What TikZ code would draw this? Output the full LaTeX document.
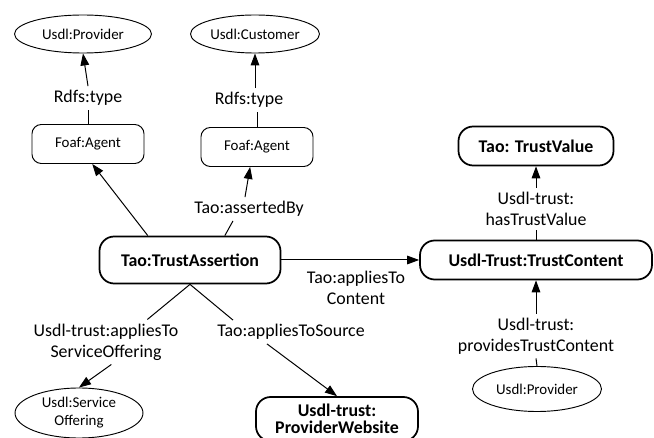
\documentclass[tikz,border=0pt]{standalone}
\usepackage{fontspec}
\setmainfont{Carlito}
\usepackage{xcolor}
\usetikzlibrary{arrows.meta,shapes.geometric}

\tikzset{
	bigbox/.style={draw,line width=1.3pt,rounded corners=11pt,inner sep=0pt,align=center,
		font=\fontsize{13.4}{12.8}\selectfont\bfseries},
	smallbox/.style={draw,line width=0.7pt,rounded corners=7pt,inner sep=0pt,
		font=\fontsize{11.2}{13.5}\selectfont},
	oval/.style={draw,ellipse,line width=0.7pt,inner sep=0pt,align=center,
		font=\fontsize{11.2}{13.5}\selectfont},
	rel/.style={inner sep=3pt,align=center,font=\fontsize{13.4}{15.75}\selectfont},
	conn/.style={line width=0.75pt},
	arr/.style={line width=0.75pt,-{Triangle[length=9pt,width=6.5pt]}}
}

\begin{document}
\begin{tikzpicture}[x=0.75pt,y=-0.75pt]
		\useasboundingbox (0,0) rectangle (654,438);
		\node[oval,minimum width=102.75pt,minimum height=28.5pt] (provA) at (83,34) {Usdl:Provider};
		\node[oval,minimum width=96.75pt,minimum height=28.5pt] (cust) at (255,34) {Usdl:Customer};
		\node[smallbox,minimum width=84pt,minimum height=29.25pt] (foafA) at (88,144) {Foaf:Agent};
		\node[smallbox,minimum width=84pt,minimum height=29.25pt] (foafB) at (257,147) {Foaf:Agent};
		\node[rel] (typeA) at (88,98) {Rdfs:type};
		\node[rel] (typeB) at (249,100) {Rdfs:type};
		\node[rel] (by) at (249,209) {Tao:assertedBy};
		\node[bigbox,minimum width=135.75pt,minimum height=35.25pt] (assert) at (190,260) {Tao:TrustAssertion};
		\node[bigbox,minimum width=174pt,minimum height=29.25pt] (content) at (536,260) {Usdl-Trust:TrustContent};
		\node[bigbox,minimum width=116.25pt,minimum height=29.25pt] (value) at (536,146) {Tao: TrustValue};
		\node[rel] (hasTV) at (536,209) {Usdl-trust:\\hasTrustValue};
		\node[rel] (appC) at (356,288) {Tao:appliesTo\\Content};
		\node[rel] (provides) at (536,336) {Usdl-trust:\\providesTrustContent};
		\node[oval,minimum width=96.75pt,minimum height=33.75pt] (prov2) at (537,389) {Usdl:Provider};
		\node[rel] (appSO) at (106,342) {Usdl-trust:appliesTo\\ServiceOffering};
		\node[rel] (src) at (291,332) {Tao:appliesToSource};
		\node[oval,minimum width=96pt,minimum height=37.5pt] (svc) at (79,413) {Usdl:Service\\Offering};
		\node[bigbox,minimum width=121.5pt,minimum height=33pt] (web) at (337,419) {Usdl-trust:\\ProviderWebsite};
		\draw[conn] (foafA.north) -- (typeA.south);
		\draw[arr] (typeA.north) -- (provA.south);
		\draw[conn] (foafB.north) -- (foafB.north |- typeB.south);
		\draw[arr] (typeB.north -| cust.south) -- (cust.south);
		\draw[arr] (assert.150) -- (foafA.282);
		\draw[conn] (assert.35) -- ([xshift=-12pt]by.south);
		\draw[arr] ([xshift=-3pt]by.north) -- (foafB.251);
		\draw[arr] (assert.east) -- (content.west);
		\draw[conn] (content.north) -- (hasTV.south);
		\draw[arr] (hasTV.north) -- (value.south);
		\draw[conn] (prov2.north) -- (provides.south);
		\draw[arr] (provides.north) -- (content.south);
		\draw[conn] (assert.south) -- ([xshift=31pt]appSO.north);
		\draw[arr] ([xshift=4pt]appSO.south) -- (svc.north);
		\draw[conn] (assert.south) -- ([xshift=15pt]src.north west);
		\draw[arr] ([xshift=-18pt]src.south) -- (web.north);
	\end{tikzpicture}
\end{document}
